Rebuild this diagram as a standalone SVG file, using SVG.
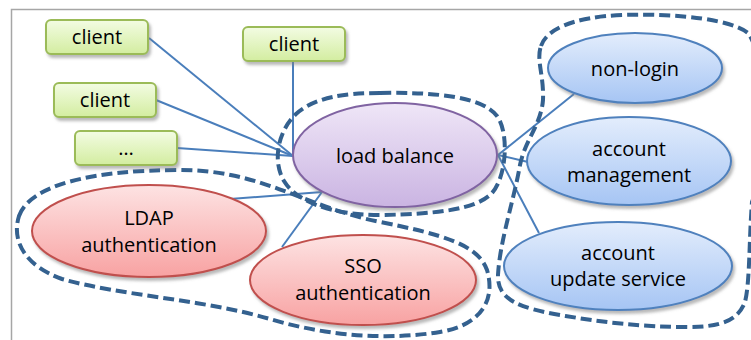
<svg xmlns="http://www.w3.org/2000/svg" width="751" height="340" viewBox="0 0 751 340">
  <defs>
    <linearGradient id="gGreen" x1="0" y1="0" x2="0" y2="1">
      <stop offset="0" stop-color="#f3fce3"/>
      <stop offset="1" stop-color="#d3eda0"/>
    </linearGradient>
    <linearGradient id="gPurple" x1="0" y1="0" x2="0" y2="1">
      <stop offset="0" stop-color="#efe6f7"/>
      <stop offset="1" stop-color="#cab4e2"/>
    </linearGradient>
    <linearGradient id="gBlue" x1="0" y1="0" x2="0" y2="1">
      <stop offset="0" stop-color="#e3edfc"/>
      <stop offset="1" stop-color="#a6c5f4"/>
    </linearGradient>
    <linearGradient id="gRed" x1="0" y1="0" x2="0" y2="1">
      <stop offset="0" stop-color="#fde3e3"/>
      <stop offset="1" stop-color="#f8a2a2"/>
    </linearGradient>
    <filter id="shadow" x="-10%" y="-10%" width="125%" height="135%">
      <feDropShadow dx="2" dy="3" stdDeviation="1.8" flood-color="#7f7f7f" flood-opacity="0.55"/>
    </filter>
  </defs>
  <style>
    .frame { stroke: #a6a6a6; stroke-width: 1.5; fill: none; }
    .link { stroke: #4a7ebb; stroke-width: 2; fill: none; }
    .group { stroke: #34618f; stroke-width: 4; fill: none; stroke-dasharray: 11 5; }
    .client rect { fill: url(#gGreen); stroke: #9bbb59; stroke-width: 2; filter: url(#shadow); }
    .lb ellipse { fill: url(#gPurple); stroke: #8064a2; stroke-width: 2; filter: url(#shadow); }
    .svc ellipse { fill: url(#gBlue); stroke: #4f81bd; stroke-width: 2; filter: url(#shadow); }
    .auth ellipse { fill: url(#gRed); stroke: #c0504d; stroke-width: 2; filter: url(#shadow); }
    text { font-family: "Open Sans", "Noto Sans", "Liberation Sans", sans-serif; font-size: 20px; fill: #000; text-anchor: middle; }
  </style>

  <rect width="751" height="340" fill="#ffffff"/>
  <path class="frame" d="M11.5,340 V9.5 H751"/>

  <!-- connectors -->
  <g id="connectors">
    <line class="link" x1="149" y1="38" x2="293" y2="156"/>
    <line class="link" x1="293" y1="62" x2="293" y2="156"/>
    <line class="link" x1="156" y1="100" x2="293" y2="156"/>
    <line class="link" x1="177" y1="148" x2="293" y2="156"/>
    <line class="link" x1="230" y1="199" x2="322" y2="192"/>
    <line class="link" x1="282" y1="247" x2="322" y2="192"/>
    <line class="link" x1="498" y1="155" x2="574" y2="94"/>
    <line class="link" x1="498" y1="155" x2="528" y2="162"/>
    <line class="link" x1="498" y1="155" x2="539" y2="233"/>
  </g>

  <!-- dashed grouping outlines -->
  <g id="groups">
    <path class="group" d="M380,93 C432,92 482,96 497,116 C509,132 507,176 492,193 C477,209 440,214 380,215 C330,215 296,201 284,181 C272,161 278,131 296,114 C315,97 345,93 380,93 Z"/>
    <path class="group" d="M19,216 C30,185 92,170 180,170 C262,170 302,206 380,222 C440,234 478,244 487,270 C496,300 481,325 440,332 C390,340 330,337 270,319 C202,299 122,296 62,279 C26,266 11,242 19,216 Z"/>
    <path class="group" d="M541,46 C546,30 572,17 622,15 C680,13 732,20 748,33 C768,60 768,160 752,202 C749,240 750,282 745,302 C738,320 722,327 688,327 C640,327 600,322 560,315 C520,308 497,300 498,275 C500,240 514,200 520,165 C525,140 541,125 543,100 C544,75 536,60 541,46 Z"/>
  </g>

  <!-- clients -->
  <g id="client1" class="client">
    <rect x="46" y="20" width="102" height="34" rx="5"/>
    <text x="97" y="44">client</text>
  </g>
  <g id="client2" class="client">
    <rect x="243" y="27" width="102" height="34" rx="5"/>
    <text x="294" y="51">client</text>
  </g>
  <g id="client3" class="client">
    <rect x="54" y="83" width="102" height="34" rx="5"/>
    <text x="105" y="107">client</text>
  </g>
  <g id="client4" class="client">
    <rect x="75" y="131" width="102" height="34" rx="5"/>
    <text x="126" y="155">…</text>
  </g>

  <!-- load balancer -->
  <g id="load-balance" class="lb">
    <ellipse cx="395" cy="155" rx="102" ry="52"/>
    <text x="395" y="163">load balance</text>
  </g>

  <!-- services -->
  <g id="non-login" class="svc">
    <ellipse cx="635" cy="68" rx="87" ry="35"/>
    <text x="635" y="76">non-login</text>
  </g>
  <g id="account-management" class="svc">
    <ellipse cx="629" cy="161" rx="102" ry="44"/>
    <text x="629" y="156">account</text>
    <text x="629" y="182">management</text>
  </g>
  <g id="account-update-service" class="svc">
    <ellipse cx="618" cy="266" rx="114" ry="44"/>
    <text x="618" y="260">account</text>
    <text x="618" y="286">update service</text>
  </g>

  <!-- authentication -->
  <g id="ldap-authentication" class="auth">
    <ellipse cx="149" cy="231" rx="117" ry="46"/>
    <text x="149" y="225">LDAP</text>
    <text x="149" y="252">authentication</text>
  </g>
  <g id="sso-authentication" class="auth">
    <ellipse cx="363" cy="280" rx="113" ry="45"/>
    <text x="363" y="273">SSO</text>
    <text x="363" y="300">authentication</text>
  </g>
</svg>
